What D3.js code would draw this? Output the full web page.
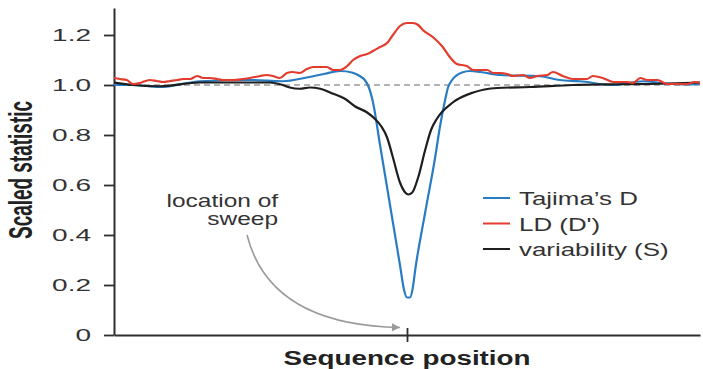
<!DOCTYPE html>
<html>
<head>
<meta charset="utf-8">
<script src="https://cdn.jsdelivr.net/npm/d3@7"></script>
<style>
  html, body { margin: 0; padding: 0; background: #fff; }
  svg { display: block; font-family: "Liberation Sans", Arial, sans-serif; }
</style>
</head>
<body>
<div id="chart"></div>
<script>
// sequence position runs 0..100, the sweep sits at 50
const sweepPos = 50;

const tajimaPos = [0, 3.2, 7.8, 14.7, 23.2, 28.8, 32.9, 36.0, 38.6, 40.6, 42.0, 42.8, 43.5, 44.2, 45.4, 47.1, 48.8, 49.5, 50.0, 50.5, 51.0, 51.4, 53.1, 54.8, 55.6, 56.5, 57.0, 57.7, 59.4, 60.75, 62.5, 65.9, 72.7, 76.1, 79.5, 85.2, 90.3, 93.2, 98.3, 100];
const tajimaVal = [1.0, 1.0, 0.992, 1.015, 1.02, 1.015, 1.03, 1.045, 1.056, 1.05, 1.035, 1.02, 0.99, 0.93, 0.76, 0.52, 0.28, 0.18, 0.15, 0.15, 0.19, 0.26, 0.49, 0.71, 0.83, 0.94, 0.99, 1.02, 1.05, 1.056, 1.052, 1.04, 1.035, 1.02, 1.015, 1.0, 1.015, 1.008, 1.002, 1.005];

const ldPos = [0, 1.0, 2.2, 3.2, 4.4, 6.1, 7.3, 8.4, 9.6, 10.8, 11.8, 13.0, 14.2, 15.2, 16.4, 17.6, 18.6, 20.3, 22.0, 23.2, 24.9, 26.1, 27.1, 28.3, 29.5, 30.5, 31.7, 32.9, 34.0, 35.2, 36.3, 37.4, 38.6, 39.8, 40.8, 42.0, 43.2, 44.2, 45.4, 46.6, 47.6, 48.8, 50.0, 51.0, 51.9, 52.7, 54.4, 56.1, 57.3, 58.5, 60.2, 61.3, 62.5, 63.7, 64.7, 65.9, 67.1, 68.1, 69.8, 71.0, 72.2, 73.9, 74.9, 76.6, 78.3, 80.7, 81.7, 83.4, 85.2, 87.5, 88.6, 89.8, 91.0, 92.7, 94.4, 96.6, 97.8, 99.1, 100];
const ldVal = [1.028, 1.024, 1.02, 1.004, 1.008, 1.02, 1.016, 1.012, 1.016, 1.02, 1.024, 1.024, 1.036, 1.028, 1.028, 1.024, 1.02, 1.02, 1.024, 1.028, 1.036, 1.04, 1.036, 1.028, 1.048, 1.052, 1.048, 1.064, 1.072, 1.072, 1.072, 1.06, 1.06, 1.076, 1.10, 1.116, 1.124, 1.136, 1.152, 1.168, 1.20, 1.236, 1.248, 1.248, 1.24, 1.22, 1.192, 1.152, 1.112, 1.084, 1.076, 1.06, 1.06, 1.06, 1.048, 1.048, 1.044, 1.036, 1.04, 1.028, 1.036, 1.04, 1.052, 1.036, 1.024, 1.024, 1.036, 1.028, 1.012, 1.012, 1.008, 1.028, 1.02, 1.02, 1.004, 1.004, 1.004, 1.012, 1.008];

const varPos = [0, 3.2, 7.8, 14.7, 23.2, 26.6, 28.8, 30.0, 31.7, 33.4, 35.2, 37.4, 39.4, 41.1, 43.2, 44.5, 45.6, 46.6, 47.6, 48.8, 49.7, 50.2, 50.9, 51.9, 53.1, 54.1, 55.1, 57.8, 61.3, 65.4, 71.0, 78.3, 86.3, 93.2, 100];
const varVal = [1.01, 1.0, 0.995, 1.01, 1.01, 1.01, 1.0, 0.99, 0.985, 0.99, 0.985, 0.965, 0.945, 0.915, 0.89, 0.865, 0.835, 0.79, 0.71, 0.61, 0.57, 0.562, 0.57, 0.63, 0.74, 0.82, 0.865, 0.93, 0.97, 0.988, 0.992, 1.0, 1.003, 1.005, 1.01];

const yTicks = [0, 0.2, 0.4, 0.6, 0.8, 1.0, 1.2];
const yTickLabels = ["0", "0.2", "0.4", "0.6", "0.8", "1.0", "1.2"];
const seriesNames = ["Tajima\u2019s D", "LD (D')", "variability (S)"];
const noteLines = ["location of", "sweep"];

const colors = ["#2a7cc2", "#e43b2f", "#1e1e1e"];
const axisColor = "#2e2e2e";
const textColor = "#333";

const width = 703, height = 369;

const svg = d3.select("#chart").append("svg")
  .attr("width", width)
  .attr("height", height);

const x = d3.scaleLinear().domain([0, 100]).range([114, 700]);
const y = d3.scaleLinear().domain([0, 1.308]).range([335, 8]);

// neutral reference line
svg.append("line")
  .attr("x1", x(0)).attr("x2", x(100))
  .attr("y1", y(1)).attr("y2", y(1))
  .attr("stroke", "#9a9a9a")
  .attr("stroke-width", 1.6)
  .attr("stroke-dasharray", "6,4");

// axes
const yAxis = svg.append("g")
  .attr("transform", "translate(" + x(0) + ",0)")
  .call(d3.axisLeft(y).tickValues(yTicks).tickFormat((d, i) => yTickLabels[i]).tickSize(10).tickSizeOuter(0));
yAxis.attr("font-size", null).attr("font-family", null);
yAxis.select(".domain").attr("stroke", axisColor).attr("stroke-width", 2);
yAxis.selectAll(".tick line").attr("stroke", axisColor).attr("stroke-width", 1.8);
yAxis.selectAll(".tick text")
  .attr("font-size", 16)
  .attr("fill", textColor)
  .attr("x", -23 / 1.75)
  .attr("transform", "scale(1.75,1)");

const xAxis = svg.append("g")
  .attr("transform", "translate(0," + y(0) + ")")
  .call(d3.axisBottom(x).tickValues([sweepPos]).tickFormat("").tickSize(7).tickSizeOuter(0));
xAxis.select(".domain").attr("stroke", axisColor).attr("stroke-width", 2);
xAxis.selectAll(".tick line").attr("y1", -7).attr("stroke", axisColor).attr("stroke-width", 1.8);

// curves
const line = d3.line()
  .x(d => x(d[0]))
  .y(d => y(d[1]))
  .curve(d3.curveMonotoneX);

const series = [
  d3.zip(tajimaPos, tajimaVal),
  d3.zip(ldPos, ldVal),
  d3.zip(varPos, varVal)
];

[0, 2, 1].forEach(i => {
  svg.append("path")
    .datum(series[i])
    .attr("fill", "none")
    .attr("stroke", colors[i])
    .attr("stroke-width", 2.2)
    .attr("stroke-linejoin", "round")
    .attr("d", line);
});

// axis titles
svg.append("text")
  .attr("transform", "translate(32,170) rotate(-90)")
  .attr("text-anchor", "middle")
  .attr("font-size", 33)
  .attr("font-weight", "bold")
  .attr("fill", "#222")
  .attr("textLength", 138)
  .attr("lengthAdjust", "spacingAndGlyphs")
  .text("Scaled statistic");

svg.append("text")
  .attr("transform", "translate(" + x(sweepPos) + ",365) scale(1.39,1)")
  .attr("text-anchor", "middle")
  .attr("font-size", 20)
  .attr("font-weight", "bold")
  .attr("fill", "#222")
  .text("Sequence position");

// legend
const legend = svg.append("g").attr("transform", "translate(483,198)");
seriesNames.forEach((name, i) => {
  legend.append("line")
    .attr("x1", 0).attr("x2", 27)
    .attr("y1", i * 25.5).attr("y2", i * 25.5)
    .attr("stroke", colors[i])
    .attr("stroke-width", 2);
  legend.append("text")
    .attr("transform", "translate(36," + (i * 25.5 + 7) + ") scale(1.48,1)")
    .attr("font-size", 17.5)
    .attr("fill", textColor)
    .text(name);
});

// sweep annotation
noteLines.forEach((t, i) => {
  svg.append("text")
    .attr("transform", "translate(" + x(28) + "," + (y(0.512) + i * 18) + ") scale(1.4,1)")
    .attr("text-anchor", "end")
    .attr("font-size", 17.5)
    .attr("fill", textColor)
    .text(t);
});

svg.append("defs").append("marker")
  .attr("id", "arrow")
  .attr("viewBox", "0 0 10 10")
  .attr("refX", 10).attr("refY", 5)
  .attr("markerWidth", 11).attr("markerHeight", 8)
  .attr("markerUnits", "userSpaceOnUse")
  .attr("orient", "auto")
  .append("path")
  .attr("d", "M0,0L10,5L0,10z")
  .attr("fill", "#9a9a9a");

const arrow = d3.path();
arrow.moveTo(x(22.7), y(0.400));
arrow.quadraticCurveTo(x(26.6), y(0.04), x(48.8), y(0.03));
svg.append("path")
  .attr("d", arrow.toString())
  .attr("fill", "none")
  .attr("stroke", "#9a9a9a")
  .attr("stroke-width", 1.6)
  .attr("marker-end", "url(#arrow)");
</script>
</body>
</html>
